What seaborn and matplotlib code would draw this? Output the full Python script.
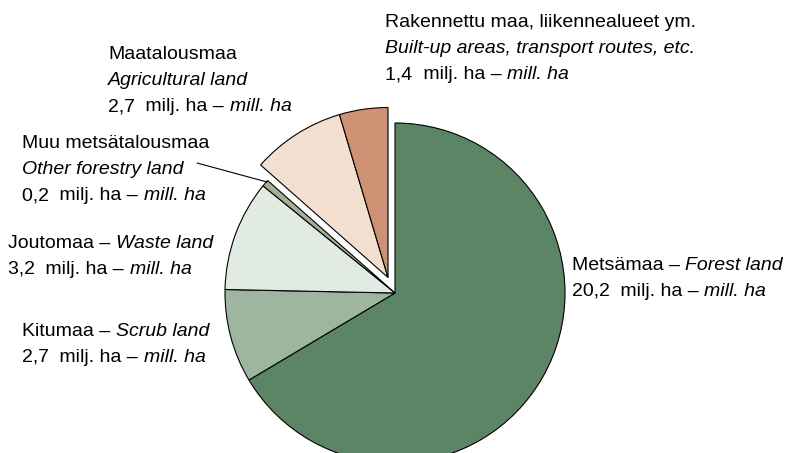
import numpy as np
import matplotlib
matplotlib.use("Agg")
import matplotlib.pyplot as plt
import seaborn as sns

sns.set_theme(style="white")
plt.rcParams['font.family'] = ['Liberation Sans', 'DejaVu Sans']

# land use in Finland, million hectares
categories = ["Metsämaa", "Kitumaa", "Joutomaa", "Muu metsätalousmaa",
              "Maatalousmaa", "Rakennettu maa"]
values = [20.2, 2.7, 3.2, 0.2, 2.7, 1.4]
colors = ["#5c8566", "#9eb6a0", "#e2ebe3", "#aaad96", "#f2dfd0", "#cd9273"]
exploded = ["Maatalousmaa", "Rakennettu maa"]

W, H = 786, 453
fig = plt.figure(figsize=(W / 100, H / 100), dpi=100)
ax = fig.add_axes([0, 0, 1, 1])

# pie centre (395, 293) px, radius 170 px
cx, cy, r = 395, 293, 170
wedges, _ = ax.pie(values, colors=colors, startangle=90, counterclock=False,
                   wedgeprops=dict(edgecolor="black", linewidth=0.8))

# explode agricultural + built-up together as one group
grp = [wedges[categories.index(c)] for c in exploded]
t1 = min(w.theta1 for w in grp)
t2 = max(w.theta2 for w in grp)
mid = np.deg2rad((t1 + t2) / 2)
for w in grp:
    w.set_center((0.1 * np.cos(mid), 0.1 * np.sin(mid)))

ax.set_xlim(-cx / r, (W - cx) / r)
ax.set_ylim(-(H - cy) / r, cy / r)
ax.set_aspect("equal")
ax.axis("off")

renderer = fig.canvas.get_renderer()
FS = 14


def line(x, y, parts):
    # parts: list of (text, italic); x, y in pixels (y = baseline from top)
    for txt, it in parts:
        t = fig.text(x / W, 1 - y / H, txt, fontsize=FS, va="baseline", ha="left",
                     style="italic" if it else "normal", color="black")
        x += t.get_window_extent(renderer).width


def block(x, y, lines, step=26):
    for i, parts in enumerate(lines):
        line(x, y + i * step, parts)


unit = [(" milj. ha – ", False), ("mill. ha", True)]

block(385, 27, [[("Rakennettu maa, liikennealueet ym.", False)],
                [("Built-up areas, transport routes, etc.", True)],
                [("1,4 ", False)] + unit])
block(108, 59, [[("Maatalousmaa", False)],
                [("Agricultural land", True)],
                [("2,7 ", False)] + unit])
block(22, 148, [[("Muu metsätalousmaa", False)],
                [("Other forestry land", True)],
                [("0,2 ", False)] + unit])
block(8, 248, [[("Joutomaa – ", False), ("Waste land", True)],
               [("3,2 ", False)] + unit])
block(22, 336, [[("Kitumaa – ", False), ("Scrub land", True)],
                [("2,7 ", False)] + unit])
block(572, 270, [[("Metsämaa – ", False), ("Forest land", True)],
                 [("20,2 ", False)] + unit])

# leader line to the small slice
fig.add_artist(plt.Line2D([197 / W, 267 / W], [1 - 163 / H, 1 - 182 / H],
                          color="black", linewidth=0.8))

fig.savefig("out.png", dpi=100, facecolor="white")
